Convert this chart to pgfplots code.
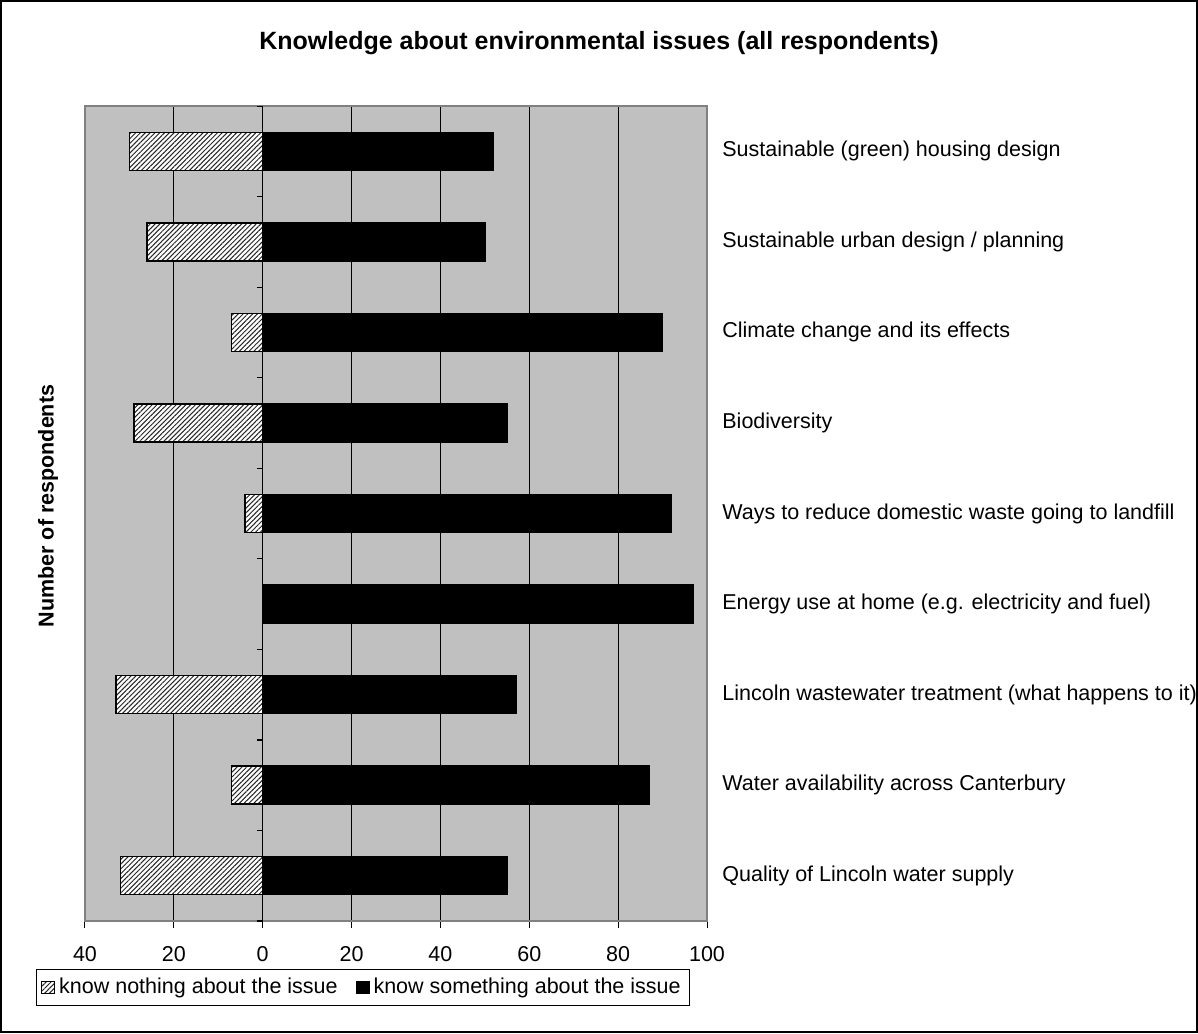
\documentclass[border=0pt]{standalone}
\usepackage{fontspec}
\setmainfont{Liberation Sans}
\usepackage{pgfplots}
\pgfplotsset{compat=1.18}
\usetikzlibrary{patterns.meta}
\definecolor{plotgray}{RGB}{192,192,192}
\definecolor{framegray}{RGB}{128,128,128}
\tikzset{hatch/.style={fill=white,postaction={pattern={Lines[angle=45,distance=1.7pt,line width=0.5pt]},pattern color=black!85}}}
\newcommand{\lblfont}{\fontsize{10.75}{13}\selectfont}
\begin{document}
\begin{tikzpicture}
% 1px of the reference = 0.5pt
\useasboundingbox (0,0) rectangle (599pt,-516.5pt);
\draw[line width=1pt] (0.5pt,-0.5pt) rectangle (598.5pt,-516pt);
\node[font=\fontsize{12.5}{15}\selectfont\bfseries] at (299.5pt,-21.5pt) {Knowledge about environmental issues (all respondents)};
\node[font=\lblfont\bfseries,rotate=90] at (24pt,-253pt) {Number of respondents};
\begin{axis}[
  at={(42.5pt,-460.5pt)}, anchor=south west,
  scale only axis, width=311pt, height=407.5pt,
  xmin=-40, xmax=100, ymin=-0.5, ymax=8.5,
  axis background/.style={fill=plotgray},
  axis line style={draw=framegray, line width=1pt},
  xbar, bar width=19pt, bar shift=0pt,
  xtick={-40,-20,...,100},
  xticklabels={40,20,0,20,40,60,80,100},
  xmajorgrids, major grid style={black, line width=0.5pt},
  xtick pos=bottom, tick align=outside,
  xtick style={black, line width=0.5pt},
  major tick length=3.5pt,
  xticklabel style={font=\lblfont, inner sep=0pt, yshift=-9pt},
  ytick={0,...,8},
  yticklabels={Quality of Lincoln water supply,
    Water availability across Canterbury,
    Lincoln wastewater treatment (what happens to it),
    Energy use at home (e.g. electricity and fuel),
    Ways to reduce domestic waste going to landfill,
    Biodiversity,
    Climate change and its effects,
    Sustainable urban design / planning,
    Sustainable (green) housing design},
  yticklabel pos=right, ytick style={draw=none},
  yticklabel style={font=\lblfont, anchor=west, inner sep=0pt, xshift=4pt},
  /pgf/number format/assume math mode=true,
  legend columns=2,
  legend style={at={(0.447,-0.0816)}, anchor=center, draw=black, fill=white,
    font=\lblfont, inner sep=2.5pt,
    /tikz/every even column/.append style={column sep=7pt}},
  legend image code/.code={\draw[#1, line width=0.5pt] (0pt,-3.2pt) rectangle (6.4pt,3.2pt);},
]
\addplot[draw=black, line width=0.75pt, hatch] coordinates {
  (-32,0) (-7,1) (-33,2) (0,3) (-4,4) (-29,5) (-7,6) (-26,7) (-30,8)};
\addlegendentry{know nothing about the issue}
\addplot[draw=black, line width=0.75pt, fill=black] coordinates {
  (55,0) (87,1) (57,2) (97,3) (92,4) (55,5) (90,6) (50,7) (52,8)};
\addlegendentry{know something about the issue}
\pgfplotsinvokeforeach{0,...,9}{\draw[black, line width=0.6pt] (axis cs:0,#1-0.5) -- ++(-3pt,0pt);}
\end{axis}
\end{tikzpicture}
\end{document}
